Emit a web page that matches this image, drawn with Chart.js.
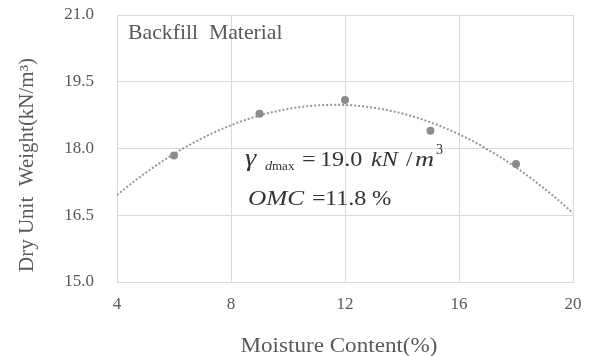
<!DOCTYPE html>
<html>
<head>
<meta charset="utf-8">
<script src="https://cdn.jsdelivr.net/npm/chart.js@4/dist/chart.umd.min.js"></script>
<style>
  html, body { margin: 0; padding: 0; background: #ffffff; }
  #wrap { width: 594px; height: 356px; position: relative; }
</style>
</head>
<body>
<div id="wrap"><canvas id="chart" width="594" height="356"></canvas></div>
<script>
// Compaction test results: moisture content (%) vs dry unit weight (kN/m3)
const moisture = [6, 9, 12, 15, 18];
const dryUnitWeight = [17.84, 18.78, 19.09, 18.40, 17.65];
const xTicks = [4, 8, 12, 16, 20];
const yTicks = [15.0, 16.5, 18.0, 19.5, 21.0];
const gammaDMax = 19.0;   // kN/m3
const omc = 11.8;         // %

const SERIF = '"Liberation Serif", "Times New Roman", serif';
const TEXT = '#595959';
const GRID = '#d9d9d9';

// Second-order least-squares trendline through the measured points
function quadFit(xs, ys) {
  let s = [0, 0, 0, 0, 0], t = [0, 0, 0];
  for (let i = 0; i < xs.length; i++) {
    let p = 1;
    for (let k = 0; k < 5; k++) { s[k] += p; if (k < 3) t[k] += p * ys[i]; p *= xs[i]; }
  }
  const m = [[s[0], s[1], s[2], t[0]], [s[1], s[2], s[3], t[1]], [s[2], s[3], s[4], t[2]]];
  for (let c = 0; c < 3; c++) {
    for (let r = c + 1; r < 3; r++) {
      const f = m[r][c] / m[c][c];
      for (let k = c; k < 4; k++) m[r][k] -= f * m[c][k];
    }
  }
  const b = [0, 0, 0];
  for (let r = 2; r >= 0; r--) {
    let v = m[r][3];
    for (let k = r + 1; k < 3; k++) v -= m[r][k] * b[k];
    b[r] = v / m[r][r];
  }
  return x => b[0] + b[1] * x + b[2] * x * x;
}

const trend = quadFit(moisture, dryUnitWeight);
const xMin = xTicks[0], xMax = xTicks[xTicks.length - 1];
const trendPts = [];
for (let i = 0; i <= 64; i++) {
  const x = xMin + (xMax - xMin) * i / 64;
  trendPts.push({ x: x, y: trend(x) });
}

// Labels, axis titles and the result annotation (text slightly widened)
const textPlugin = {
  id: 'chartText',
  afterDraw(chart) {
    const ctx = chart.ctx;
    const put = (txt, x, y, font, sx, align) => {
      ctx.save();
      ctx.font = font;
      ctx.textAlign = align || 'left';
      ctx.textBaseline = 'alphabetic';
      ctx.translate(x, y);
      ctx.scale(sx, 1);
      ctx.fillText(txt, 0, 0);
      ctx.restore();
    };
    ctx.save();
    ctx.fillStyle = TEXT;
    put('Backfill  Material', 128, 39, '21px ' + SERIF, 1.035);
    put('Moisture Content(%)', 339, 352, '21px ' + SERIF, 1.1, 'center');

    ctx.save();
    ctx.translate(33, 165);
    ctx.rotate(-Math.PI / 2);
    put('Dry Unit  Weight(kN/m\u00B3)', 0, 0, '20px ' + SERIF, 1.05, 'center');
    ctx.restore();

    // γ_dmax and OMC
    ctx.fillStyle = '#333333';
    const it = 'italic 22px ' + SERIF, up = '21px ' + SERIF;
    put('\u03B3', 245, 166, 'italic 26px ' + SERIF, 1.1);
    put('d', 265, 169.5, 'italic 13px ' + SERIF, 1.1);
    put('max', 272, 169.5, '13px ' + SERIF, 1.0);
    put('=', 302, 166, up, 1.15);
    put(gammaDMax.toFixed(1), 320, 166, up, 1.15);
    put('kN', 371, 166, it, 1.1);
    put('/', 406, 166, up, 1.1);
    put('m', 415, 166, it, 1.2);
    put('3', 436, 154, '14px ' + SERIF, 1.0);

    put('OMC', 248, 205, it, 1.15);
    put('=', 312, 205, up, 1.15);
    put(omc.toFixed(1), 325, 205, up, 1.15);
    put('%', 372, 205, up, 1.1);
    ctx.restore();
  }
};

new Chart(document.getElementById('chart'), {
  type: 'scatter',
  data: {
    datasets: [
      {
        label: 'Measured',
        data: moisture.map((m, i) => ({ x: m, y: dryUnitWeight[i] })),
        backgroundColor: '#8c8c8c',
        borderColor: '#8c8c8c',
        pointRadius: 4,
        pointBorderWidth: 0,
        order: 0
      },
      {
        label: 'Poly. trend',
        type: 'line',
        data: trendPts,
        borderColor: '#969696',
        borderWidth: 2,
        borderDash: [2, 2],
        pointRadius: 0,
        fill: false,
        tension: 0,
        order: 1
      }
    ]
  },
  options: {
    responsive: false,
    animation: false,
    devicePixelRatio: 1,
    layout: { padding: { left: 0, right: 21, top: 15, bottom: 0 } },
    plugins: { legend: { display: false }, tooltip: { enabled: false } },
    scales: {
      x: {
        type: 'linear',
        min: xMin, max: xMax,
        afterBuildTicks: s => { s.ticks = xTicks.map(v => ({ value: v })); },
        afterFit: s => { s.height = 74; s.paddingLeft = 0; s.paddingRight = 0; },
        grid: { color: GRID, lineWidth: 1, drawTicks: false },
        border: { color: GRID },
        ticks: { color: TEXT, font: { family: SERIF, size: 17 }, padding: 12, callback: v => String(v) }
      },
      y: {
        min: yTicks[0], max: yTicks[yTicks.length - 1],
        afterBuildTicks: s => { s.ticks = yTicks.map(v => ({ value: v })); },
        afterFit: s => { s.width = 117; s.paddingTop = 0; s.paddingBottom = 0; },
        grid: { color: GRID, lineWidth: 1, drawTicks: false },
        border: { color: GRID },
        ticks: { color: TEXT, font: { family: SERIF, size: 17 }, padding: 23, callback: v => Number(v).toFixed(1) }
      }
    }
  },
  plugins: [textPlugin]
});
</script>
</body>
</html>
